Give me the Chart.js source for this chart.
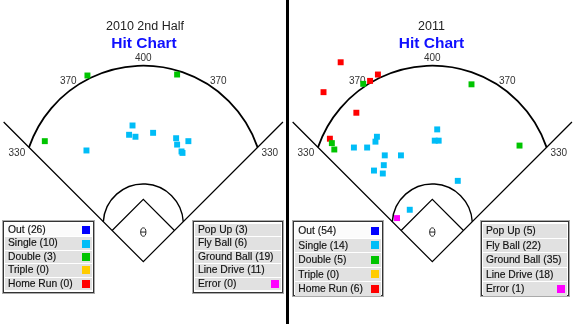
<!DOCTYPE html>
<html>
<head>
<meta charset="utf-8">
<script src="https://cdn.jsdelivr.net/npm/chart.js@4.4.0/dist/chart.umd.min.js"></script>
<style>
  body { margin: 0; background: #fff; }
  #wrap { position: relative; width: 576px; height: 324px; overflow: hidden; background: #fff;
          font-family: "Liberation Sans", Arial, sans-serif; }
  .panel { position: absolute; top: 0; height: 324px; }
  .panel canvas { position: absolute; left: 0; top: 0; }
  #divider { position: absolute; left: 286px; top: 0; width: 3px; height: 324px; background: #000; }
  .t1, .t2 { position: absolute; width: 200px; text-align: center; white-space: nowrap; }
  .t1 { top: 19px; font-size: 12.5px; line-height: 14px; color: #222; }
  .t2 { top: 33.5px; font-size: 15.5px; line-height: 18px; font-weight: bold; color: #1010ff; }
  .box { position: absolute; top: 221px; box-sizing: border-box; background: #fff;
         border: 1px solid #333; box-shadow: 0 0 0 1px #aaa; padding: 2px 1px 0 1px; }
  .row { position: relative; background: #e1e1e1; margin-bottom: 1px; padding-left: 3px;
         font-size: 10.3px; color: #111; white-space: nowrap; -webkit-text-stroke: 0.15px #111; }
  .row.first { background: #fbfbfb; }
  .sw { position: absolute; right: 2px; width: 8px; height: 8px; }
</style>
</head>
<body>
<div id="wrap">
  <div class="panel" id="p2010" style="left:0; width:286px;">
    <canvas id="c2010" width="286" height="324"></canvas>
    <div class="t1" style="left:45px;">2010 2nd Half</div>
    <div class="t2" style="left:44px;">Hit Chart</div>
  </div>
  <div id="divider"></div>
  <div class="panel" id="p2011" style="left:289px; width:287px;">
    <canvas id="c2011" width="287" height="324"></canvas>
    <div class="t1" style="left:42.5px;">2011</div>
    <div class="t2" style="left:42.5px;">Hit Chart</div>
  </div>
</div>
<script>
// hit locations in feet, home plate at (0,0), x to the right, y toward center field
const singles2010 = [[-22, 278], [-29, 259], [-16, 255], [20, 263], [67, 252], [92, 246], [69, 239], [78, 225], [80, 222], [-116, 227]];
const doubles2010 = [[-114, 380], [69, 382], [-201, 246]];
const triples2010 = [];
const homers2010 = [];
const errors2010 = [];

const singles2011 = [[10, 270], [5, 247], [13, 247], [-113, 255], [-116, 245], [-160, 233], [-133, 233], [-97, 217], [-64, 217], [-99, 197], [-119, 186], [-101, 180], [52, 165], [-46, 106]];
const doubles2011 = [[-141, 363], [80, 362], [-205, 242], [-200, 229], [178, 237]];
const triples2011 = [];
const homers2011 = [[-187, 407], [-111, 382], [-127, 369], [-222, 346], [-155, 304], [-209, 251]];
const errors2011 = [[-72, 89]];

// legend categories and counts
const resultLabels = ['Out', 'Single', 'Double', 'Triple', 'Home Run'];
const typeLabels = ['Pop Up', 'Fly Ball', 'Ground Ball', 'Line Drive', 'Error'];
const resultCounts2010 = [26, 10, 3, 0, 0];
const typeCounts2010 = [3, 6, 19, 11, 0];
const resultCounts2011 = [54, 14, 5, 0, 6];
const typeCounts2011 = [5, 22, 35, 18, 1];

// fence distance labels
const fenceLabels = ['330', '370', '400', '370', '330'];

const resultColors = ['#0000ff', '#00bdf7', '#00c400', '#ffcc00', '#ff0000'];
const errorColor = '#ff00ff';

// field geometry (feet)
const BASE = 90, FOUL_END = 285, MOUND = 60.5;
const OF_CY = 153.4, OF_R = 246.6;
const IF_CY = 76.9, IF_R = 81.7;
const labelPos = [[-258, 221], [-153, 368], [0, 415], [153, 368], [258, 221]];

function foulHit(cy, r) {
  // where a circle centred on (0,cy) meets the line y = x
  return (cy + Math.sqrt(cy * cy - 2 * (cy * cy - r * r))) / 2;
}

const fieldPlugin = {
  id: 'field',
  beforeDatasetsDraw(chart) {
    const { ctx, scales: { x, y } } = chart;
    const X = v => x.getPixelForValue(v), Y = v => y.getPixelForValue(v);
    const k = X(1) - X(0);
    ctx.save();
    ctx.strokeStyle = '#000';

    // foul lines
    ctx.lineWidth = 1.3;
    ctx.beginPath();
    ctx.moveTo(X(-FOUL_END), Y(FOUL_END));
    ctx.lineTo(X(0), Y(0));
    ctx.lineTo(X(FOUL_END), Y(FOUL_END));
    ctx.stroke();

    // diamond
    const d = BASE / Math.SQRT2;
    ctx.lineWidth = 1.2;
    ctx.beginPath();
    ctx.moveTo(X(-d), Y(d));
    ctx.lineTo(X(0), Y(2 * d));
    ctx.lineTo(X(d), Y(d));
    ctx.stroke();

    // infield arc
    let s = foulHit(IF_CY, IF_R);
    let a = Math.atan2(s - IF_CY, s);
    ctx.lineWidth = 1.4;
    ctx.beginPath();
    ctx.arc(X(0), Y(IF_CY), IF_R * k, -(Math.PI - a), -a, false);
    ctx.stroke();

    // outfield wall
    s = foulHit(OF_CY, OF_R);
    a = Math.atan2(s - OF_CY, s);
    ctx.lineWidth = 1.8;
    ctx.beginPath();
    ctx.arc(X(0), Y(OF_CY), OF_R * k, -(Math.PI - a), -a, false);
    ctx.stroke();

    // pitcher's rubber
    ctx.lineWidth = 1;
    ctx.strokeStyle = '#222';
    ctx.beginPath();
    ctx.ellipse(X(0), Y(MOUND), 2.6, 4.2, 0, 0, Math.PI * 2);
    ctx.moveTo(X(0) - 2.6, Y(MOUND));
    ctx.lineTo(X(0) + 2.6, Y(MOUND));
    ctx.stroke();

    // fence distances
    ctx.fillStyle = '#333';
    ctx.font = '10px "Liberation Sans", Arial, sans-serif';
    ctx.textAlign = 'center';
    ctx.textBaseline = 'middle';
    fenceLabels.forEach((t, i) => ctx.fillText(t, X(labelPos[i][0]), Y(labelPos[i][1])));
    ctx.restore();
  }
};

function toPts(arr) {
  return arr.map(p => ({ x: p[0], y: p[1] }));
}

function makeChart(id, errors, singles, doubles, triples, homers) {
  const canvas = document.getElementById(id);
  const kpx = 0.49, homeX = 143.3, homeY = 261.7;
  const sets = [
    [errors, errorColor],
    [singles, resultColors[1]],
    [doubles, resultColors[2]],
    [triples, resultColors[3]],
    [homers, resultColors[4]]
  ];
  return new Chart(canvas, {
    type: 'scatter',
    data: {
      datasets: sets.map(s => ({
        data: toPts(s[0]),
        backgroundColor: s[1],
        borderWidth: 0,
        pointStyle: 'rect',
        pointRadius: 4.2,
        pointHoverRadius: 4.2
      }))
    },
    options: {
      responsive: false,
      animation: false,
      events: [],
      layout: { padding: 0, autoPadding: false },
      plugins: { legend: { display: false }, tooltip: { enabled: false } },
      scales: {
        x: { type: 'linear', display: false, min: -homeX / kpx, max: (canvas.width - homeX) / kpx },
        y: { type: 'linear', display: false, min: -(canvas.height - homeY) / kpx, max: homeY / kpx }
      }
    },
    plugins: [fieldPlugin]
  });
}

function makeLegend(panel, left, width, height, pitch, labels, counts, swatches, firstWhite) {
  const box = document.createElement('div');
  box.className = 'box';
  box.style.left = left + 'px';
  box.style.width = width + 'px';
  box.style.height = height + 'px';
  labels.forEach((lab, i) => {
    const row = document.createElement('div');
    row.className = 'row' + (firstWhite && i === 0 ? ' first' : '');
    row.style.height = (pitch - 1) + 'px';
    row.style.lineHeight = (pitch - 1) + 'px';
    row.textContent = lab + ' (' + counts[i] + ')';
    if (swatches[i]) {
      const sw = document.createElement('div');
      sw.className = 'sw';
      sw.style.background = swatches[i];
      sw.style.top = ((pitch - 1 - 8) / 2) + 'px';
      row.appendChild(sw);
    }
    box.appendChild(row);
  });
  document.getElementById(panel).appendChild(box);
}

const typeSwatches = [null, null, null, null, errorColor];

makeChart('c2010', errors2010, singles2010, doubles2010, triples2010, homers2010);
makeChart('c2011', errors2011, singles2011, doubles2011, triples2011, homers2011);

makeLegend('p2010', 3, 91, 71.5, 13.4, resultLabels, resultCounts2010, resultColors, true);
makeLegend('p2010', 193, 90, 71.5, 13.4, typeLabels, typeCounts2010, typeSwatches, false);
makeLegend('p2011', 4.3, 90, 75, 14.5, resultLabels, resultCounts2011, resultColors, true);
makeLegend('p2011', 192, 88, 75, 14.5, typeLabels, typeCounts2011, typeSwatches, false);
</script>
</body>
</html>
